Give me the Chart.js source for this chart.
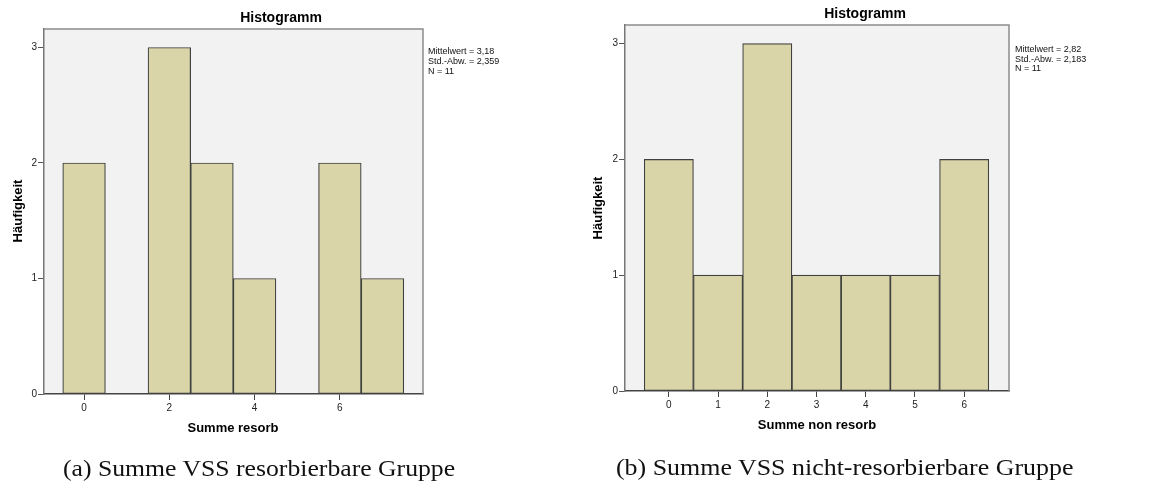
<!DOCTYPE html>
<html>
<head>
<meta charset="utf-8">
<script src="https://cdn.jsdelivr.net/npm/chart.js@4/dist/chart.umd.min.js"></script>
<style>
  html, body { margin: 0; padding: 0; background: #fff; }
  #wrap { position: relative; width: 1166px; height: 484px; overflow: hidden; }
  canvas { position: absolute; top: 0; }
  .caption {
    position: absolute; white-space: nowrap;
    font-family: "Liberation Serif", "Times New Roman", serif;
    font-size: 24px; color: #111; line-height: 1;
    transform-origin: center center;
  }
</style>
</head>
<body>
<div id="wrap">
  <canvas id="chartA" width="583" height="484" style="left:0px;width:583px;height:484px"></canvas>
  <canvas id="chartB" width="583" height="484" style="left:583px;width:583px;height:484px"></canvas>
  <div class="caption" id="capA">(a) Summe VSS resorbierbare Gruppe</div>
  <div class="caption" id="capB">(b) Summe VSS nicht-resorbierbare Gruppe</div>
</div>
<script>
// Histogram bins (score value) and their frequencies
const resorbValues = [0, 2, 3, 4, 6, 7];
const resorbCounts = [2, 3, 2, 1, 2, 1];
const nonResorbValues = [0, 1, 2, 3, 4, 5, 6];
const nonResorbCounts = [2, 1, 3, 1, 1, 1, 2];

// Axis tick labels
const resorbTicks = [0, 2, 4, 6];
const nonResorbTicks = [0, 1, 2, 3, 4, 5, 6];
const countTicks = [0, 1, 2, 3];

const titleText = 'Histogramm';
const yTitle = 'Häufigkeit';
const xTitleA = 'Summe resorb';
const xTitleB = 'Summe non resorb';

const SANS = '"Liberation Sans", Arial, Helvetica, sans-serif';
const BAR_FILL = '#d9d5a8';
const BAR_EDGE = '#404040';
const PLOT_BG = '#f2f2f2';

// Descriptive statistics derived from the frequency table
function stats(values, counts) {
  let n = 0, sum = 0;
  values.forEach((v, i) => { n += counts[i]; sum += v * counts[i]; });
  const mean = sum / n;
  let ss = 0;
  values.forEach((v, i) => { ss += counts[i] * (v - mean) ** 2; });
  const sd = Math.sqrt(ss / (n - 1));
  const fmt = (x, d) => x.toFixed(d).replace('.', ',');
  return ['Mittelwert = ' + fmt(mean, 2), 'Std.-Abw. = ' + fmt(sd, 3), 'N = ' + n];
}

// Draws plot background, frame and all surrounding text labels
const decorPlugin = {
  id: 'decor',
  beforeDraw(chart, args, o) {
    const { ctx, chartArea: a } = chart;
    ctx.save();
    ctx.fillStyle = PLOT_BG;
    ctx.fillRect(a.left, a.top, a.right - a.left, a.bottom - a.top);
    ctx.restore();
  },
  beforeDatasetsDraw(chart, args, o) {
    const { ctx, chartArea: a } = chart;
    ctx.save();
    ctx.strokeStyle = '#8c8c8c';
    ctx.lineWidth = 1.5;
    ctx.beginPath();
    ctx.moveTo(a.left, a.top);
    ctx.lineTo(a.right, a.top);
    ctx.lineTo(a.right, a.bottom);
    ctx.stroke();
    ctx.restore();
  },
  afterDraw(chart, args, o) {
    const { ctx } = chart;
    ctx.save();
    ctx.fillStyle = '#000';
    ctx.textAlign = 'center';
    ctx.textBaseline = 'middle';
    ctx.font = 'bold 14px ' + SANS;
    ctx.fillText(titleText, o.title[0], o.title[1]);
    ctx.font = 'bold 13px ' + SANS;
    ctx.fillText(o.xTitle, o.xPos[0], o.xPos[1]);
    ctx.save();
    ctx.translate(o.yPos[0], o.yPos[1]);
    ctx.rotate(-Math.PI / 2);
    ctx.fillText(yTitle, 0, 0);
    ctx.restore();
    ctx.textAlign = 'left';
    ctx.fillStyle = '#111';
    ctx.font = '9px ' + SANS;
    o.stats.forEach((line, i) => ctx.fillText(line, o.statsPos[0], o.statsPos[1] + i * 9.6));
    ctx.restore();
  }
};

function makeChart(id, values, counts, xTicks, xMin, xMax, pad, yWidth, decor) {
  return new Chart(document.getElementById(id), {
    type: 'bar',
    data: {
      datasets: [{
        data: values.map((v, i) => ({ x: v, y: counts[i] })),
        backgroundColor: BAR_FILL,
        borderColor: BAR_EDGE,
        borderWidth: 1.2,
        borderSkipped: false,
        barPercentage: 1,
        categoryPercentage: 1
      }]
    },
    options: {
      responsive: false,
      animation: false,
      events: [],
      layout: { padding: pad },
      plugins: { legend: { display: false }, tooltip: { enabled: false }, decor: decor },
      scales: {
        x: {
          type: 'linear',
          offset: false,
          min: xMin, max: xMax,
          afterBuildTicks: s => { s.ticks = xTicks.map(v => ({ value: v })); },
          afterFit: s => { s.height = 30; },
          grid: { display: true, offset: false, drawOnChartArea: false, drawTicks: true, tickLength: 6, color: '#444', lineWidth: 1 },
          border: { display: true, color: '#444', width: 1.5 },
          ticks: { padding: 2, color: '#222', font: { family: SANS, size: 10 }, maxRotation: 0 }
        },
        y: {
          type: 'linear',
          min: 0, max: 3.16,
          afterBuildTicks: s => { s.ticks = countTicks.map(v => ({ value: v })); },
          afterFit: s => { s.width = yWidth; },
          grid: { display: true, drawOnChartArea: false, drawTicks: true, tickLength: 6, color: '#555', lineWidth: 1 },
          border: { display: true, color: '#777', width: 1.5 },
          ticks: { padding: 1, color: '#222', font: { family: SANS, size: 10 } }
        }
      }
    },
    plugins: [decorPlugin]
  });
}

makeChart('chartA', resorbValues, resorbCounts, resorbTicks, -0.94, 7.95,
  { left: 0, top: 29, right: 160, bottom: 60 }, 44,
  { title: [281, 18], xTitle: xTitleA, xPos: [233, 428], yPos: [18, 211],
    stats: stats(resorbValues, resorbCounts), statsPos: [428, 52] });

makeChart('chartB', nonResorbValues, nonResorbCounts, nonResorbTicks, -0.89, 6.91,
  { left: 0, top: 25, right: 157, bottom: 63 }, 42,
  { title: [282, 14], xTitle: xTitleB, xPos: [234, 425], yPos: [15, 208],
    stats: stats(nonResorbValues, nonResorbCounts), statsPos: [432, 49.5] });

// Place the sub-figure captions, stretched to the caption width
function placeCaption(id, cx, cy, targetW) {
  const el = document.getElementById(id);
  const w = el.offsetWidth, h = el.offsetHeight;
  el.style.left = (cx - w / 2) + 'px';
  el.style.top = (cy - h / 2) + 'px';
  el.style.transform = 'scaleX(' + (targetW / w) + ')';
}
placeCaption('capA', 259, 468, 392);
placeCaption('capB', 844, 466.5, 457);
</script>
</body>
</html>
